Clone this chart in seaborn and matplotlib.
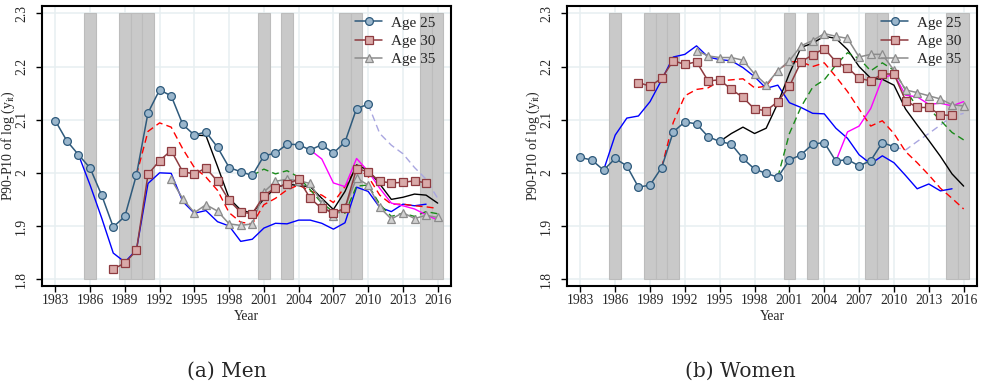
import matplotlib
matplotlib.use("Agg")
import matplotlib.pyplot as plt
import seaborn as sns

# ---------------------------------------------------------------- data
recession_years = [1986, 1989, 1990, 1991, 2001, 2003, 2008, 2009, 2015, 2016]
x_ticks = [1983, 1986, 1989, 1992, 1995, 1998, 2001, 2004, 2007, 2010, 2013, 2016]
y_ticks = [1.8, 1.9, 2.0, 2.1, 2.2, 2.3]
y_tick_labels = ["1.8", "1.9", "2", "2.1", "2.2", "2.3"]
legend_labels = ["Age 25", "Age 30", "Age 35"]
panel_titles = ["(a) Men", "(b) Women"]

yrs_age25 = list(range(1983, 2011))
yrs_age30 = list(range(1988, 2016))
yrs_age35 = list(range(1993, 2017))
yrs_ext25 = list(range(2010, 2017))
yrs_blue = list(range(1985, 2016))
yrs_red = list(range(1990, 2017))
yrs_black = list(range(1995, 2017))
yrs_green = list(range(2000, 2017))
yrs_magenta = list(range(2005, 2017))

# Men
men_age25 = [2.098, 2.060, 2.034, 2.009, 1.958, 1.898, 1.918, 1.996, 2.113, 2.156,
             2.145, 2.091, 2.071, 2.077, 2.048, 2.010, 2.002, 1.995, 2.032, 2.037,
             2.054, 2.053, 2.043, 2.053, 2.037, 2.058, 2.121, 2.129]
men_age30 = [1.819, 1.830, 1.854, 1.997, 2.023, 2.042, 2.002, 1.998, 2.009, 1.984,
             1.948, 1.926, 1.923, 1.957, 1.972, 1.979, 1.988, 1.952, 1.933, 1.925,
             1.933, 2.008, 2.002, 1.984, 1.981, 1.982, 1.985, 1.981]
men_age35 = [1.988, 1.951, 1.925, 1.940, 1.928, 1.904, 1.901, 1.904, 1.964, 1.984,
             1.988, 1.985, 1.980, 1.943, 1.918, 1.935, 1.990, 1.977, 1.935, 1.913,
             1.925, 1.914, 1.920, 1.916]
men_ext25 = [2.129, 2.074, 2.052, 2.036, 2.010, 1.988, 1.952]
men_blue = [2.034, 1.977, 1.915, 1.849, 1.832, 1.855, 1.980, 2.000, 1.999, 1.946,
            1.924, 1.929, 1.908, 1.900, 1.871, 1.875, 1.896, 1.905, 1.904, 1.911,
            1.911, 1.905, 1.894, 1.906, 1.973, 1.965, 1.935, 1.927, 1.941, 1.938,
            1.941]
men_red = [1.996, 2.078, 2.094, 2.086, 2.045, 2.010, 1.992, 1.967, 1.925, 1.907,
           1.904, 1.940, 1.952, 1.968, 1.977, 1.966, 1.958, 1.944, 1.974, 2.010,
           1.993, 1.958, 1.941, 1.941, 1.938, 1.936, 1.933]
men_black = [2.071, 2.070, 2.012, 1.952, 1.930, 1.924, 1.951, 1.972, 1.979, 1.976,
             1.974, 1.952, 1.931, 1.965, 2.015, 2.005, 1.979, 1.950, 1.954, 1.960,
             1.958, 1.943]
men_green = [1.995, 2.007, 1.998, 2.004, 1.992, 1.968, 1.943, 1.927, 1.924, 1.975,
             1.977, 1.941, 1.918, 1.924, 1.918, 1.927, 1.923]
men_magenta = [2.043, 2.026, 1.981, 1.974, 2.027, 2.003, 1.971, 1.943, 1.938, 1.932,
               1.921, 1.911]

# Women
women_age25 = [2.029, 2.024, 2.005, 2.027, 2.013, 1.973, 1.977, 2.010, 2.077, 2.096,
               2.092, 2.068, 2.059, 2.054, 2.027, 2.007, 1.999, 1.992, 2.024, 2.034,
               2.054, 2.057, 2.022, 2.025, 2.013, 2.023, 2.057, 2.049]
women_age30 = [2.170, 2.163, 2.178, 2.211, 2.204, 2.209, 2.173, 2.175, 2.157, 2.142,
               2.120, 2.117, 2.134, 2.163, 2.209, 2.222, 2.234, 2.209, 2.198, 2.178,
               2.173, 2.186, 2.186, 2.136, 2.123, 2.123, 2.109, 2.108]
women_age35 = [2.230, 2.220, 2.217, 2.217, 2.212, 2.186, 2.166, 2.192, 2.211, 2.239,
               2.249, 2.262, 2.257, 2.253, 2.218, 2.223, 2.223, 2.193, 2.156, 2.151,
               2.145, 2.139, 2.128, 2.126]
women_ext25 = [2.049, 2.043, 2.059, 2.074, 2.090, 2.106, 2.112]
women_blue = [2.005, 2.071, 2.103, 2.107, 2.134, 2.175, 2.218, 2.223, 2.239, 2.218,
              2.213, 2.211, 2.198, 2.181, 2.159, 2.165, 2.132, 2.123, 2.112, 2.111,
              2.084, 2.065, 2.034, 2.017, 2.032, 2.019, 1.995, 1.970, 1.979, 1.966,
              1.970]
women_red = [2.010, 2.095, 2.145, 2.157, 2.160, 2.173, 2.175, 2.177, 2.160, 2.163,
             2.193, 2.209, 2.209, 2.200, 2.207, 2.181, 2.153, 2.120, 2.088, 2.098,
             2.074, 2.040, 2.019, 1.996, 1.971, 1.952, 1.932]
women_black = [2.059, 2.074, 2.086, 2.074, 2.084, 2.131, 2.187, 2.236, 2.244, 2.257,
               2.253, 2.232, 2.200, 2.178, 2.176, 2.165, 2.120, 2.090, 2.061, 2.031,
               1.998, 1.975]
women_green = [1.992, 2.074, 2.124, 2.161, 2.175, 2.203, 2.226, 2.215, 2.192, 2.207,
               2.193, 2.156, 2.124, 2.121, 2.099, 2.076, 2.062]
women_magenta = [2.022, 2.077, 2.088, 2.121, 2.178, 2.186, 2.146, 2.143, 2.129, 2.131,
                 2.126, 2.134]

# ---------------------------------------------------------------- style
sns.set_theme(style="white")
plt.rcParams["font.family"] = ["Liberation Serif", "DejaVu Serif"]
plt.rcParams["mathtext.fontset"] = "custom"
plt.rcParams["mathtext.rm"] = "Liberation Serif"
plt.rcParams["mathtext.it"] = "Liberation Serif:italic"

fig = plt.figure(figsize=(9.83, 3.84), dpi=100)
ax_m = fig.add_axes([42 / 983, 1 - 286 / 384, 409 / 983, 280 / 384])
ax_w = fig.add_axes([567 / 983, 1 - 286 / 384, 410 / 983, 280 / 384])

age_styles = [
    dict(color="#2e5a7c", marker="o", markerfacecolor="#9ab6cc", markeredgecolor="#2e5a7c"),
    dict(color="#8e3b40", marker="s", markerfacecolor="#d9aaa9", markeredgecolor="#8e3b40"),
    dict(color="#8c8c8c", marker="^", markerfacecolor="#cfcfcf", markeredgecolor="#8c8c8c"),
]

Y_LO, Y_HI = 1.787, 2.314


def draw_panel(ax, age25, age30, age35, ext25, blue, red, black, green, magenta):
    # shaded recession years
    for yr in recession_years:
        ax.axvspan(yr - 0.5, yr + 0.5, ymin=(1.8 - Y_LO) / (Y_HI - Y_LO),
                   ymax=(2.3 - Y_LO) / (Y_HI - Y_LO),
                   facecolor="#c9c9c9", edgecolor="#bcbcbc", lw=0.8, zorder=1)

    line_kw = dict(ax=ax, lw=1.0, zorder=3, legend=False)
    sns.lineplot(x=yrs_ext25, y=ext25, color="#a9a6e0", ls=(0, (5, 3)), **line_kw)
    sns.lineplot(x=yrs_blue, y=blue, color="#0000ff", **line_kw)
    sns.lineplot(x=yrs_red, y=red, color="#ff0000", ls=(0, (5, 3)), **line_kw)
    sns.lineplot(x=yrs_black, y=black, color="#000000", **line_kw)
    sns.lineplot(x=yrs_green, y=green, color="#1a8a1a", ls=(0, (5, 3)), **line_kw)
    sns.lineplot(x=yrs_magenta, y=magenta, color="#ff00ff", **line_kw)

    mk_kw = dict(ax=ax, lw=1.1, markersize=5.6, markeredgewidth=0.9, zorder=4,
                 legend=False)
    sns.lineplot(x=yrs_age35, y=age35, **age_styles[2], **mk_kw)
    sns.lineplot(x=yrs_age30, y=age30, **age_styles[1], **mk_kw)
    sns.lineplot(x=yrs_age25, y=age25, **age_styles[0], **mk_kw)

    ax.set_xlim(1981.85, 2017.15)
    ax.set_ylim(Y_LO, Y_HI)
    ax.set_xticks(x_ticks)
    ax.set_yticks(y_ticks)
    ax.set_yticklabels(y_tick_labels, rotation=90, va="center")
    ax.grid(True, color="#e7eff1", lw=1.1, zorder=0)
    ax.set_axisbelow(True)
    for s in ax.spines.values():
        s.set_color("black")
        s.set_linewidth(1.5)
    ax.tick_params(axis="both", direction="out", length=4, width=1, color="black",
                   labelsize=9.8, bottom=True, left=True)
    ax.tick_params(axis="x", pad=2)
    ax.tick_params(axis="y", pad=6)
    ax.set_xlabel("Year", fontsize=9.8)
    ax.xaxis.set_label_coords(0.5, -0.085)
    ax.set_ylabel(r"P90-P10 of log (y$_{\mathrm{it}}$)", fontsize=10)
    ax.yaxis.set_label_coords(-0.062, 0.5)

    handles = [plt.Line2D([], [], lw=1.1, markersize=5.6, markeredgewidth=0.9, **st)
               for st in age_styles]
    ax.legend(handles, legend_labels, loc="upper right", frameon=False,
              fontsize=11, handlelength=1.75, handletextpad=0.55,
              labelspacing=0.3, borderaxespad=0.25, bbox_to_anchor=(0.985, 1.0))


draw_panel(ax_m, men_age25, men_age30, men_age35, men_ext25, men_blue, men_red,
           men_black, men_green, men_magenta)
draw_panel(ax_w, women_age25, women_age30, women_age35, women_ext25, women_blue,
           women_red, women_black, women_green, women_magenta)

for x_px, title in zip([227, 740], panel_titles):
    fig.text(x_px / 983, 1 - 371 / 384, title, ha="center", va="center",
             family="DejaVu Serif", fontsize=14.5)

fig.savefig("out.png", dpi=100, facecolor="white")
